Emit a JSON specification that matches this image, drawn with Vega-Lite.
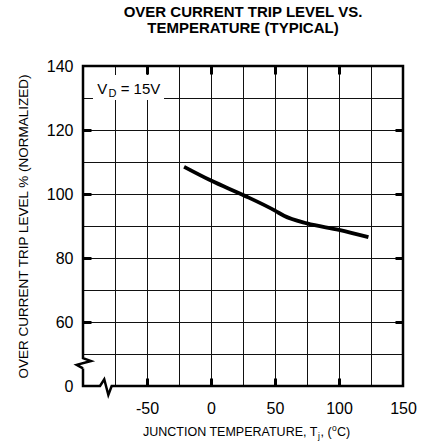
{
  "$schema": "https://vega.github.io/schema/vega-lite/v6.json",
  "width": 320,
  "height": 320,
  "autosize": {"type": "none"},
  "padding": {"left": 83, "top": 66, "right": 30, "bottom": 56},
  "config": {"font": "Liberation Sans", "view": {"stroke": null}},
  "title": {
    "text": ["OVER CURRENT TRIP LEVEL VS.", "TEMPERATURE (TYPICAL)"],
    "fontSize": 15,
    "fontWeight": "bold",
    "lineHeight": 16,
    "offset": 22,
    "color": "#000000",
    "font": "Liberation Sans"
  },
  "datasets": {
    "curve": [
      {"t": -21, "v": 108.5},
      {"t": 0, "v": 104.2},
      {"t": 25, "v": 99.7},
      {"t": 50, "v": 94.8},
      {"t": 57, "v": 93.2},
      {"t": 75, "v": 90.8},
      {"t": 100, "v": 88.8},
      {"t": 123, "v": 86.5}
    ],
    "frame": [
      {"i": 0, "t": -100, "v": 45.5},
      {"i": 1, "t": -100, "v": 40},
      {"i": 2, "t": -86.7, "v": 40},
      {"i": 3, "t": -83.4, "v": 42.1},
      {"i": 4, "t": -80.2, "v": 37.2},
      {"i": 5, "t": -77.6, "v": 40},
      {"i": 6, "t": 150, "v": 40},
      {"i": 7, "t": 150, "v": 140},
      {"i": 8, "t": -100, "v": 140},
      {"i": 9, "t": -100, "v": 48.7},
      {"i": 10, "t": -93.75, "v": 47.8},
      {"i": 11, "t": -104.9, "v": 46.6},
      {"i": 12, "t": -100, "v": 45.5}
    ],
    "box": [
      {"t1": -92.2, "t2": -36.7, "v1": 137.2, "v2": 129.4}
    ],
    "notes": [
      {"label": "V", "t": -88.8, "v": 131.4, "kind": "main"},
      {"label": "D", "t": -80.1, "v": 130.2, "kind": "sub"},
      {"label": "= 15V", "t": -70.6, "v": 131.4, "kind": "main"}
    ],
    "xtitle": [
      {"label": "JUNCTION TEMPERATURE, T", "t": 83.1, "v": 24.4, "kind": "lead"},
      {"label": "j", "t": 83.6, "v": 23.5, "kind": "sub"},
      {"label": ", (", "t": 85.6, "v": 24.4, "kind": "main"},
      {"label": "o", "t": 94.5, "v": 26.0, "kind": "sub"},
      {"label": "C)", "t": 98.4, "v": 24.4, "kind": "main"}
    ]
  },
  "resolve": {"axis": {"x": "independent", "y": "independent"}},
  "layer": [
    {
      "data": {"name": "frame"},
      "mark": {"type": "line", "clip": false, "color": "#000000", "strokeWidth": 2.5, "strokeJoin": "miter"},
      "encoding": {
        "order": {"field": "i", "type": "quantitative"},
        "x": {
          "field": "t", "type": "quantitative",
          "scale": {"domain": [-100, 150], "nice": false, "zero": false},
          "axis": {
            "values": [-75, -50, -25, 0, 25, 50, 75, 100, 125, 150],
            "labelExpr": "(datum.value % 50 == 0) ? (datum.value < 0 ? '-' + (-datum.value) : '' + datum.value) : ''",
            "domain": false,
            "grid": true,
            "gridColor": "#111111",
            "gridWidth": 1,
            "tickSize": -8,
            "tickWidth": 3,
            "tickColor": "#000000",
            "tickOpacity": {"condition": {"test": "datum.value % 50 == 0 && datum.value < 150", "value": 1}, "value": 0},
            "labelFontSize": 16,
            "labelColor": "#000000",
            "labelPadding": 22,
            "labelFlush": false,
            "title": null
          }
        },
        "y": {
          "field": "v", "type": "quantitative",
          "scale": {"domain": [40, 140], "nice": false, "zero": false},
          "axis": {
            "values": [40, 50, 60, 70, 80, 90, 100, 110, 120, 130, 140],
            "labelExpr": "datum.value == 40 ? '0' : ((datum.value % 20 == 0) ? datum.label : '')",
            "domain": false,
            "grid": true,
            "gridColor": "#111111",
            "gridWidth": 1,
            "gridOpacity": {"condition": {"test": "datum.value == 40", "value": 0}, "value": 1},
            "tickSize": -8,
            "tickWidth": 3,
            "tickColor": "#000000",
            "tickOpacity": {"condition": {"test": "datum.value % 20 == 0 && datum.value > 40 && datum.value < 140", "value": 1}, "value": 0},
            "labelFontSize": 16,
            "labelColor": "#000000",
            "labelPadding": 18,
            "labelFlush": false,
            "title": "OVER CURRENT TRIP LEVEL % (NORMALIZED)",
            "titleFontSize": 13.5,
            "titleFontWeight": "normal",
            "titleColor": "#000000",
            "titlePadding": 16
          }
        }
      }
    },
    {
      "data": {"name": "box"},
      "mark": {"type": "rect", "fill": "#ffffff", "clip": false},
      "encoding": {
        "x": {"field": "t1", "type": "quantitative", "scale": {"domain": [-100, 150], "nice": false, "zero": false}, "axis": null},
        "x2": {"field": "t2"},
        "y": {"field": "v1", "type": "quantitative", "scale": {"domain": [40, 140], "nice": false, "zero": false}, "axis": null},
        "y2": {"field": "v2"}
      }
    },
    {
      "data": {"name": "notes"},
      "transform": [{"filter": "datum.kind == 'main'"}],
      "mark": {"type": "text", "align": "left", "baseline": "alphabetic", "fontSize": 15, "color": "#000000", "clip": false},
      "encoding": {
        "text": {"field": "label", "type": "nominal"},
        "x": {"field": "t", "type": "quantitative", "scale": {"domain": [-100, 150], "nice": false, "zero": false}, "axis": null},
        "y": {"field": "v", "type": "quantitative", "scale": {"domain": [40, 140], "nice": false, "zero": false}, "axis": null}
      }
    },
    {
      "data": {"name": "notes"},
      "transform": [{"filter": "datum.kind == 'sub'"}],
      "mark": {"type": "text", "align": "left", "baseline": "alphabetic", "fontSize": 11, "color": "#000000", "clip": false},
      "encoding": {
        "text": {"field": "label", "type": "nominal"},
        "x": {"field": "t", "type": "quantitative", "scale": {"domain": [-100, 150], "nice": false, "zero": false}, "axis": null},
        "y": {"field": "v", "type": "quantitative", "scale": {"domain": [40, 140], "nice": false, "zero": false}, "axis": null}
      }
    },
    {
      "data": {"name": "xtitle"},
      "transform": [{"filter": "datum.kind == 'lead'"}],
      "mark": {"type": "text", "align": "right", "baseline": "alphabetic", "fontSize": 12.5, "color": "#000000", "clip": false},
      "encoding": {
        "text": {"field": "label", "type": "nominal"},
        "x": {"field": "t", "type": "quantitative", "scale": {"domain": [-100, 150], "nice": false, "zero": false}, "axis": null},
        "y": {"field": "v", "type": "quantitative", "scale": {"domain": [40, 140], "nice": false, "zero": false}, "axis": null}
      }
    },
    {
      "data": {"name": "xtitle"},
      "transform": [{"filter": "datum.kind == 'main'"}],
      "mark": {"type": "text", "align": "left", "baseline": "alphabetic", "fontSize": 12.5, "color": "#000000", "clip": false},
      "encoding": {
        "text": {"field": "label", "type": "nominal"},
        "x": {"field": "t", "type": "quantitative", "scale": {"domain": [-100, 150], "nice": false, "zero": false}, "axis": null},
        "y": {"field": "v", "type": "quantitative", "scale": {"domain": [40, 140], "nice": false, "zero": false}, "axis": null}
      }
    },
    {
      "data": {"name": "xtitle"},
      "transform": [{"filter": "datum.kind == 'sub'"}],
      "mark": {"type": "text", "align": "left", "baseline": "alphabetic", "fontSize": 8.5, "color": "#000000", "clip": false},
      "encoding": {
        "text": {"field": "label", "type": "nominal"},
        "x": {"field": "t", "type": "quantitative", "scale": {"domain": [-100, 150], "nice": false, "zero": false}, "axis": null},
        "y": {"field": "v", "type": "quantitative", "scale": {"domain": [40, 140], "nice": false, "zero": false}, "axis": null}
      }
    },
    {
      "data": {"name": "curve"},
      "mark": {"type": "line", "interpolate": "monotone", "color": "#000000", "strokeWidth": 3.8},
      "encoding": {
        "x": {
          "field": "t", "type": "quantitative",
          "scale": {"domain": [-100, 150], "nice": false, "zero": false},
          "axis": {
            "orient": "top",
            "values": [-50, 0, 50, 100],
            "labels": false,
            "domain": false,
            "grid": false,
            "tickSize": -8,
            "tickWidth": 3,
            "tickColor": "#000000",
            "title": null
          }
        },
        "y": {
          "field": "v", "type": "quantitative",
          "scale": {"domain": [40, 140], "nice": false, "zero": false},
          "axis": {
            "orient": "right",
            "values": [60, 80, 100, 120],
            "labels": false,
            "domain": false,
            "grid": false,
            "tickSize": -8,
            "tickWidth": 3,
            "tickColor": "#000000",
            "title": null
          }
        }
      }
    }
  ]
}
